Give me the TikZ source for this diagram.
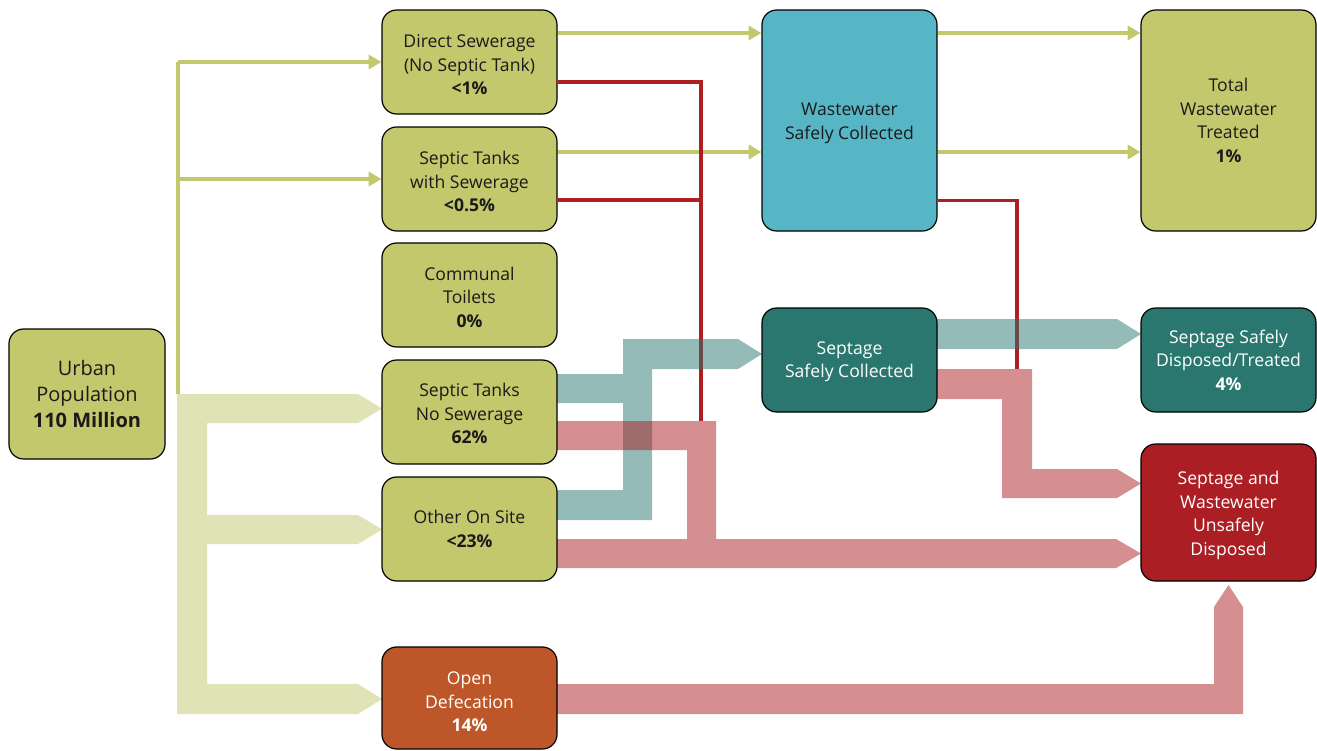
\documentclass[tikz,border=0pt]{standalone}
\usepackage{fontspec}
\setmainfont{Open Sans}
\usetikzlibrary{arrows.meta,calc}
\definecolor{cOlive}{HTML}{C4C86C}
\definecolor{cPale}{HTML}{E0E3B6}
\definecolor{cCyan}{HTML}{56B6C6}
\definecolor{cTeal}{HTML}{2A7770}
\definecolor{cRed}{HTML}{AB1F24}
\definecolor{cLine}{HTML}{B01E24}
\definecolor{cOrange}{HTML}{BD5629}
\definecolor{cText}{HTML}{1A1A1A}
\pgfdeclarelayer{bg}
\pgfsetlayers{bg,main}
\tikzset{
  box/.style={draw=black, line width=0.9pt, rounded corners=11pt, inner sep=0pt,
    minimum width=131.25pt, minimum height=78pt},
  txt/.style={align=center, inner sep=0pt, text=cText, font=\fontsize{13.2pt}{17.6pt}\selectfont},
  wtxt/.style={txt, text=white},
  garrow/.style={draw=cOlive, line width=2.3pt, -{Triangle[length=9.5pt,width=10.5pt]}},
  gline/.style={draw=cOlive, line width=2.3pt},
  rline/.style={draw=cLine, line width=2.3pt},
  paleband/.style={fill=cPale},
  tealband/.style={fill=cTeal, fill opacity=0.5},
  redband/.style={fill=cRed, fill opacity=0.5},
}
\begin{document}
\begin{tikzpicture}[x=0.75pt,y=-0.75pt]
\useasboundingbox (0,0) rectangle (1317,750);
% boxes
\node[box, fill=cOlive, minimum width=117pt, minimum height=97.5pt] (urban) at (87,394) {};
\node[box, fill=cOlive] (ds) at (469.5,62) {};
\node[box, fill=cOlive] (sws) at (469.5,179) {};
\node[box, fill=cOlive] (ct) at (469.5,295) {};
\node[box, fill=cOlive] (sns) at (469.5,412) {};
\node[box, fill=cOlive] (oos) at (469.5,529) {};
\node[box, fill=cOrange, minimum height=76.5pt] (od) at (469.5,698) {};
\node[box, fill=cCyan, minimum height=165.75pt] (wsc) at (849.5,120.5) {};
\node[box, fill=cTeal] (ssc) at (849.5,360) {};
\node[box, fill=cOlive, minimum height=165.75pt] (twt) at (1228.5,120.5) {};
\node[box, fill=cTeal] (ssd) at (1228.5,360) {};
\node[box, fill=cRed, minimum height=102.75pt] (ud) at (1228.5,512.5) {};
% texts
\node[txt, font=\fontsize{15pt}{19.8pt}\selectfont] (urbanT) at (urban.center) {Urban\\Population\\\textbf{110 Million}};
\node[txt] (dsT) at ([yshift=-2.25pt]ds.center) {Direct Sewerage\\(No Septic Tank)\\\textbf{<1\%}};
\node[txt] (swsT) at ([yshift=-1.9pt]sws.center) {Septic Tanks\\with Sewerage\\\textbf{<0.5\%}};
\node[txt] (ctT) at ([yshift=-1.5pt]ct.center) {Communal\\Toilets\\\textbf{0\%}};
\node[txt] (snsT) at ([yshift=-1.1pt]sns.center) {Septic Tanks\\No Sewerage\\\textbf{62\%}};
\node[txt] (oosT) at (oos.center) {Other On Site\\\textbf{<23\%}};
\node[wtxt] (odT) at ([yshift=-3pt]od.center) {Open\\Defecation\\\textbf{14\%}};
\node[txt] (wscT) at ([yshift=-2.25pt]wsc.center) {Wastewater\\Safely Collected};
\node[wtxt] (sscT) at ([yshift=-1.5pt]ssc.center) {Septage\\Safely Collected};
\node[txt] (twtT) at (twt.center) {Total\\Wastewater\\Treated\\\textbf{1\%}};
\node[wtxt] (ssdT) at (ssd.center) {Septage Safely\\Disposed/Treated\\\textbf{4\%}};
\node[wtxt] (udT) at ([yshift=-2.25pt]ud.center) {Septage and\\Wastewater\\Unsafely\\Disposed};
% helper coordinates
\coordinate (gv) at (178,394);
\coordinate (gs) at (178,179);
\coordinate (gt) at (178,62);
\coordinate (a1) at ($(ds.east)+(0,-29)$);
\coordinate (a2) at ($(sws.east)+(0,-27)$);
\coordinate (r1) at ($(ds.east)+(0,20)$);
\coordinate (r2) at ($(sws.east)+(0,21)$);
\coordinate (rv) at (701,421);
\coordinate (r3) at ($(wsc.east)+(0,80)$);
\coordinate (rw) at (1017,369);
\begin{pgfonlayer}{bg}
\path[paleband] (177,394) -- (358,394) -- (382,408.5) -- (358,423) -- (207,423) -- (207,515)
  -- (358,515) -- (382,529.5) -- (358,544) -- (207,544) -- (207,684) -- (358,684)
  -- (382,699) -- (358,714) -- (177,714) -- cycle;
\draw[gline] (gv) -- (gt);
\draw[garrow] (gt) -- (ds.west);
\draw[garrow] (gs) -- (sws.west);
\draw[garrow] (a1) -- (a1 -| wsc.west);
\draw[garrow] (a2) -- (a2 -| wsc.west);
\draw[garrow] (a1 -| wsc.east) -- (a1 -| twt.west);
\draw[garrow] (a2 -| wsc.east) -- (a2 -| twt.west);
\draw[rline] (r1) -| (rv);
\draw[rline] (r2) -- (r2 -| rv);
\draw[rline] (r3) -| (rw);
\path[tealband] (557,374) -- (623,374) -- (623,339) -- (738,339) -- (762,354) -- (738,369)
  -- (652,369) -- (652,520) -- (557,520) -- (557,490) -- (623,490) -- (623,403) -- (557,403) -- cycle;
\path[tealband] (937,319) -- (1117,319) -- (1141,334) -- (1117,349) -- (937,349) -- cycle;
\path[redband] (557,421) -- (716,421) -- (716,539) -- (1116,539) -- (1141,553.5) -- (1116,568)
  -- (557,568) -- (557,539) -- (687,539) -- (687,450) -- (557,450) -- cycle;
\path[redband] (937,369) -- (1032,369) -- (1032,469) -- (1117,469) -- (1141,483.5) -- (1117,498)
  -- (1002,498) -- (1002,399) -- (937,399) -- cycle;
\path[redband] (557,684) -- (1214,684) -- (1214,607) -- (1228.5,585) -- (1243,607) -- (1243,714)
  -- (557,714) -- cycle;
\end{pgfonlayer}
\end{tikzpicture}
\end{document}
